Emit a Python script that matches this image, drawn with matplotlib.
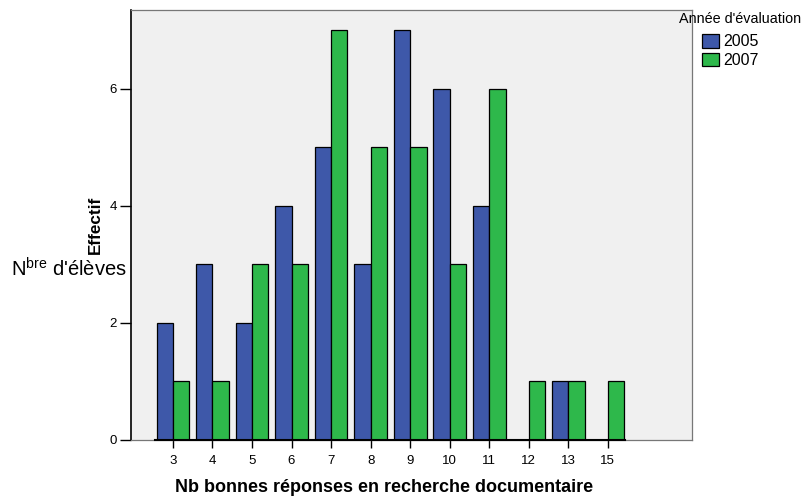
import matplotlib
matplotlib.use("Agg")
import matplotlib.pyplot as plt
import numpy as np

categories = ["3", "4", "5", "6", "7", "8", "9", "10", "11", "12", "13", "15"]
values_2005 = [2, 3, 2, 4, 5, 3, 7, 6, 4, 0, 1, 0]
values_2007 = [1, 1, 3, 3, 7, 5, 5, 3, 6, 1, 1, 1]
series_labels = ["2005", "2007"]
y_ticks = [0, 2, 4, 6]

plt.rcParams['font.family'] = ['Liberation Sans', 'DejaVu Sans']
plt.rcParams['mathtext.fontset'] = 'custom'
plt.rcParams['mathtext.rm'] = 'Liberation Sans'

W, H = 804, 496
fig = plt.figure(figsize=(W / 100, H / 100), dpi=100)
ax = fig.add_axes([131 / W, 1 - 440 / H, (692 - 131) / W, (440 - 10) / H])
ax.set_facecolor("#f0f0f0")

x = np.arange(len(categories))
bw = 0.415
c1, c2 = "#3e58a9", "#2eb84b"
b1 = ax.bar(x - bw / 2, values_2005, bw, color=c1, edgecolor="black", linewidth=0.9, label=series_labels[0])
b2 = ax.bar(x + bw / 2, values_2007, bw, color=c2, edgecolor="black", linewidth=0.9, label=series_labels[1])

ax.set_xlim(-1.06, 13.13)
ax.set_ylim(0, 7.35)
ax.set_xticks(x)
ax.set_xticklabels(categories, fontsize=9.5)
ax.set_yticks(y_ticks)
ax.set_yticklabels([str(v) for v in y_ticks], fontsize=9.5)
ax.tick_params(axis='x', length=6, width=1, pad=5, colors='black')
ax.tick_params(axis='y', length=8, width=1, pad=2)

for s in ["top", "right", "bottom"]:
    ax.spines[s].set_color("#777777")
    ax.spines[s].set_linewidth(0.9)
ax.spines["left"].set_color("black")
ax.spines["left"].set_linewidth(1.2)

# baseline under bars
ax.plot([x[0] - bw - 0.03, x[-1] + bw + 0.03], [0, 0], color="black", lw=1.5, clip_on=False, zorder=5)

fig.text(384 / W, 1 - 487 / H, "Nb bonnes réponses en recherche documentaire",
         fontsize=13, fontweight="bold", ha="center", va="center")
fig.text(95 / W, 1 - 225 / H, "Effectif", fontsize=12.3, fontweight="bold",
         rotation=90, ha="center", va="center")
fig.text(11 / W, 1 - 269 / H, r"N$^{\rm bre}$ d'élèves", fontsize=14.5, ha="left", va="center")

fig.text(679 / W, 1 - 19 / H, "Année d'évaluation", fontsize=10.4, ha="left", va="center")
leg = fig.legend(handles=[b1, b2], labels=series_labels,
                 loc="upper left", bbox_to_anchor=(702 / W, 1 - 34 / H), frameon=False,
                 fontsize=11.5, handlelength=1.05, handleheight=0.95,
                 handletextpad=0.25, borderpad=0.0, borderaxespad=0.0, labelspacing=0.2)

fig.savefig("out.png", dpi=100)
